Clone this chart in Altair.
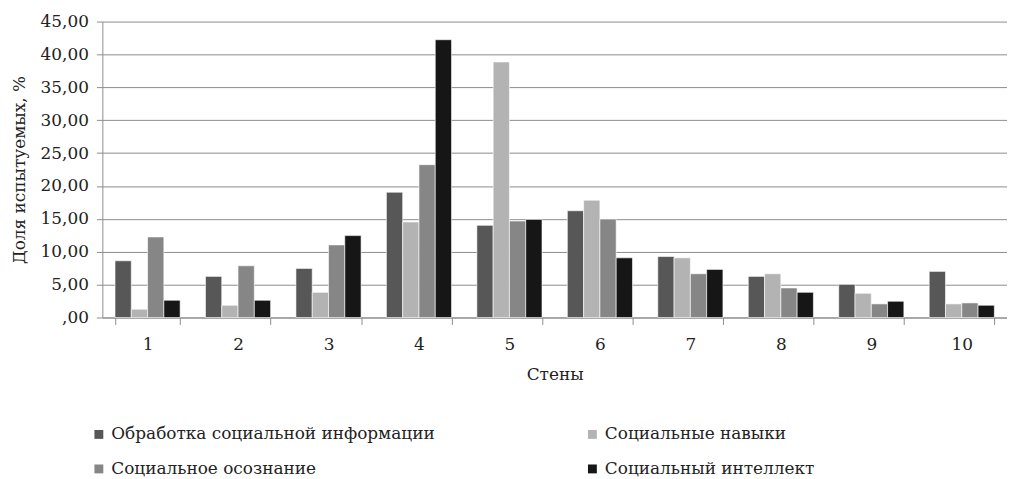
import altair as alt
import pandas as pd

walls = ["1", "2", "3", "4", "5", "6", "7", "8", "9", "10"]
series = [
    "Обработка социальной информации",
    "Социальные навыки",
    "Социальное осознание",
    "Социальный  интеллект",
]
colors = ["#575757", "#b3b3b3", "#868686", "#161616"]
# legend reads row by row: processing, skills / awareness, intellect
legend_order = [series[0], series[2], series[1], series[3]]
legend_colors = [colors[0], colors[2], colors[1], colors[3]]

processing = [8.62, 6.25, 7.46, 19.05, 14.01, 16.23, 9.27, 6.25, 5.04, 7.01]
skills = [1.26, 1.86, 3.83, 14.52, 38.86, 17.84, 9.07, 6.65, 3.68, 2.07]
awareness = [12.25, 7.86, 11.04, 23.24, 14.67, 14.97, 6.65, 4.49, 2.07, 2.22]
intellect = [2.62, 2.62, 12.45, 42.24, 14.92, 9.07, 7.31, 3.83, 2.47, 1.86]

values = [processing, skills, awareness, intellect]
rows = []
for s, vals in zip(series, values):
    for w, v in zip(walls, vals):
        rows.append({"Стены": w, "series": s, "value": v})
df = pd.DataFrame(rows)

FONT = "DejaVu Serif"
FS = 17

chart = (
    alt.Chart(df)
    .mark_bar(stroke="white", strokeWidth=0.6)
    .encode(
        x=alt.X(
            "Стены:N",
            sort=walls,
            scale=alt.Scale(paddingInner=0.28, paddingOuter=0.14),
            axis=alt.Axis(
                title="Стены",
                labelAngle=0,
                tickBand="extent",
                tickSize=7,
                tickColor="#8c8c8c",
                domainColor="#8c8c8c",
                labelPadding=12,
                titlePadding=14,
                grid=False,
            ),
        ),
        xOffset=alt.XOffset("series:N", sort=series),
        y=alt.Y(
            "value:Q",
            scale=alt.Scale(domain=[0, 45], nice=False),
            axis=alt.Axis(
                title="Доля испытуемых, %",
                values=[0, 5, 10, 15, 20, 25, 30, 35, 40, 45],
                labelExpr="datum.value == 0 ? ',00' : replace(format(datum.value, '.2f'), '.', ',')",
                tickSize=6,
                tickColor="#8c8c8c",
                domainColor="#8c8c8c",
                gridColor="#8c8c8c",
                labelPadding=8,
                titlePadding=12,
            ),
        ),
        color=alt.Color(
            "series:N",
            scale=alt.Scale(domain=legend_order, range=legend_colors),
            legend=alt.Legend(
                title=None,
                orient="none",
                legendX=-12,
                legendY=407,
                columns=2,
                columnPadding=150,
                rowPadding=17,
                symbolType="square",
                symbolSize=80,
                symbolStrokeWidth=0,
                labelFont=FONT,
                labelFontSize=FS,
                labelColor="#222222",
                labelLimit=500,
                labelOffset=4,
            ),
        ),
    )
    .properties(
        width=911,
        height=298,
        autosize=alt.AutoSizeParams(type="none"),
        padding={"left": 95, "top": 12, "right": 0, "bottom": 165},
    )
    .configure_view(stroke=None)
    .configure_axis(
        labelFont=FONT,
        titleFont=FONT,
        labelFontSize=FS,
        titleFontSize=FS,
        titleFontWeight="normal",
        labelColor="#222222",
        titleColor="#222222",
    )
)

chart.save("out.html", embed_options={"renderer": "svg", "actions": False})
